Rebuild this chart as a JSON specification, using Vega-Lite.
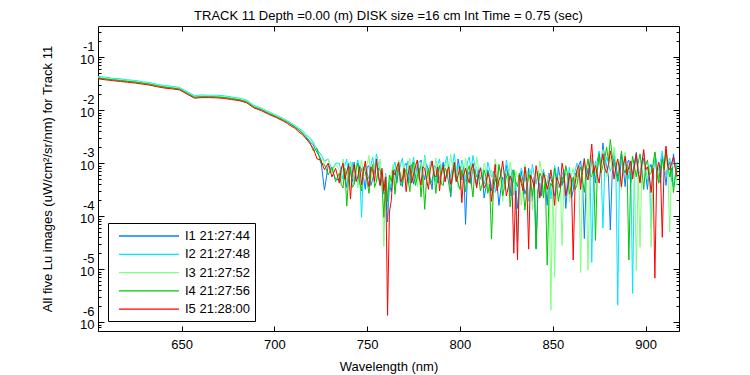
{
"$schema": "https://vega.github.io/schema/vega-lite/v6.json",
"width": 581, "height": 305,
"autosize": {"type": "none"},
"padding": {"left": 98, "top": 26, "right": 71, "bottom": 44},
"background": "white",
"title": {"text": "TRACK 11 Depth =0.00 (m) DISK size =16 cm   Int Time = 0.75 (sec)", "font": "Liberation Sans", "fontSize": 13, "fontWeight": "normal", "color": "black", "offset": -8},
"config": {"font": "Liberation Sans", "view": {"stroke": "black", "strokeWidth": 1}},
"data": {"values": [
{"w":605,"s":"I1","v":0.0412},{"w":609,"s":"I1","v":0.0394},{"w":613,"s":"I1","v":0.0381},{"w":617,"s":"I1","v":0.0368},{"w":621,"s":"I1","v":0.0355},{"w":625,"s":"I1","v":0.0343},{"w":629,"s":"I1","v":0.0328},{"w":633,"s":"I1","v":0.0313},{"w":637,"s":"I1","v":0.0292},{"w":641,"s":"I1","v":0.0276},{"w":645,"s":"I1","v":0.0266},{"w":649,"s":"I1","v":0.0254},{"w":653,"s":"I1","v":0.0212},{"w":657,"s":"I1","v":0.0178},{"w":661,"s":"I1","v":0.0182},{"w":665,"s":"I1","v":0.0182},{"w":669,"s":"I1","v":0.018},{"w":673,"s":"I1","v":0.0176},{"w":677,"s":"I1","v":0.0167},{"w":681,"s":"I1","v":0.016},{"w":685,"s":"I1","v":0.0146},{"w":689,"s":"I1","v":0.0117},{"w":693,"s":"I1","v":0.0104},{"w":697,"s":"I1","v":0.00882},{"w":701,"s":"I1","v":0.00767},{"w":705,"s":"I1","v":0.00654},
{"w":707,"s":"I1","v":6.0e-3},{"w":709,"s":"I1","v":5.4e-3},{"w":711,"s":"I1","v":4.9e-3},{"w":713,"s":"I1","v":4.3e-3},{"w":715,"s":"I1","v":3.8e-3},{"w":717,"s":"I1","v":3.2e-3},{"w":719,"s":"I1","v":2.6e-3},{"w":721,"s":"I1","v":2.2e-3},{"w":723,"s":"I1","v":1.6e-3},{"w":725,"s":"I1","v":1.2e-3},{"w":727,"s":"I1","v":3.1e-4},{"w":729,"s":"I1","v":9.0e-4},{"w":731,"s":"I1","v":7.5e-4},{"w":733,"s":"I1","v":5.0e-4},
{"w":735,"s":"I1","v":4.8e-4},{"w":737,"s":"I1","v":9.5e-4},{"w":739,"s":"I1","v":3.5e-4},{"w":741,"s":"I1","v":7.0e-4},{"w":743,"s":"I1","v":1.05e-3},{"w":745,"s":"I1","v":4.0e-4},{"w":747,"s":"I1","v":7.5e-4},{"w":749,"s":"I1","v":3.2e-4},{"w":751,"s":"I1","v":9.0e-4},{"w":753,"s":"I1","v":5.0e-4},{"w":755,"s":"I1","v":1.1e-3},{"w":757,"s":"I1","v":3.8e-4},{"w":759,"s":"I1","v":2.6e-4},{"w":761,"s":"I1","v":7.8e-5},{"w":763,"s":"I1","v":2.9e-4},{"w":765,"s":"I1","v":6.8e-4},{"w":767,"s":"I1","v":8.0e-4},{"w":769,"s":"I1","v":3.6e-4},{"w":771,"s":"I1","v":1.0e-3},{"w":773,"s":"I1","v":6.8e-4},{"w":775,"s":"I1","v":4.0e-4},{"w":777,"s":"I1","v":9.0e-4},{"w":779,"s":"I1","v":1.15e-3},{"w":781,"s":"I1","v":4.8e-4},{"w":783,"s":"I1","v":7.5e-4},{"w":785,"s":"I1","v":3.2e-4},{"w":787,"s":"I1","v":8.5e-4},{"w":789,"s":"I1","v":5.0e-4},{"w":791,"s":"I1","v":1.05e-3},{"w":793,"s":"I1","v":6.2e-4},{"w":795,"s":"I1","v":2.3e-4},{"w":797,"s":"I1","v":8.0e-4},{"w":799,"s":"I1","v":1.2e-3},{"w":801,"s":"I1","v":4.8e-4},{"w":803,"s":"I1","v":7.0e-5},{"w":805,"s":"I1","v":7.0e-4},{"w":807,"s":"I1","v":1.0e-3},{"w":809,"s":"I1","v":3.8e-4},
{"w":811,"s":"I1","v":5.0e-4},{"w":813,"s":"I1","v":2.2e-4},{"w":815,"s":"I1","v":7.5e-4},{"w":817,"s":"I1","v":3.0e-4},{"w":819,"s":"I1","v":6.0e-4},{"w":821,"s":"I1","v":1.6e-4},{"w":823,"s":"I1","v":5.5e-4},{"w":825,"s":"I1","v":9.0e-4},{"w":827,"s":"I1","v":2.4e-4},{"w":829,"s":"I1","v":4.5e-4},{"w":831,"s":"I1","v":1.4e-4},{"w":833,"s":"I1","v":7.0e-4},{"w":835,"s":"I1","v":2.6e-4},{"w":837,"s":"I1","v":8.0e-4},{"w":839,"s":"I1","v":1.9e-4},{"w":841,"s":"I1","v":2.4e-5},{"w":843,"s":"I1","v":4.2e-4},{"w":845,"s":"I1","v":7.5e-4},{"w":847,"s":"I1","v":1.6e-4},{"w":849,"s":"I1","v":5.0e-4},{"w":851,"s":"I1","v":2.4e-4},{"w":853,"s":"I1","v":8.5e-4},{"w":855,"s":"I1","v":3.8e-4},{"w":857,"s":"I1","v":1.4e-4},{"w":859,"s":"I1","v":6.0e-4},{"w":861,"s":"I1","v":3.0e-4},
{"w":863,"s":"I1","v":5.5e-4},{"w":865,"s":"I1","v":1.1e-3},{"w":867,"s":"I1","v":3.8e-5},{"w":869,"s":"I1","v":8.0e-4},{"w":871,"s":"I1","v":1.4e-3},{"w":873,"s":"I1","v":4.2e-4},{"w":875,"s":"I1","v":1.6e-3},{"w":877,"s":"I1","v":2.4e-3},{"w":879,"s":"I1","v":9.0e-4},{"w":881,"s":"I1","v":5.5e-5},{"w":883,"s":"I1","v":1.2e-3},{"w":885,"s":"I1","v":5.5e-4},{"w":887,"s":"I1","v":1.5e-3},{"w":889,"s":"I1","v":3.6e-4},{"w":891,"s":"I1","v":1.15e-3},{"w":893,"s":"I1","v":6.5e-4},{"w":895,"s":"I1","v":1.6e-3},{"w":897,"s":"I1","v":4.5e-4},{"w":899,"s":"I1","v":1.25e-3},{"w":901,"s":"I1","v":3.2e-4},{"w":903,"s":"I1","v":9.5e-4},{"w":905,"s":"I1","v":1.6e-3},{"w":907,"s":"I1","v":5.0e-4},{"w":909,"s":"I1","v":1.35e-3},{"w":911,"s":"I1","v":3.8e-4},{"w":913,"s":"I1","v":1.05e-3},{"w":915,"s":"I1","v":1.5e-3},{"w":917,"s":"I1","v":6.5e-4},
{"w":736,"s":"I1","v":8.0e-4},{"w":738,"s":"I1","v":5.0e-4},{"w":740,"s":"I1","v":1.0e-3},{"w":742,"s":"I1","v":4.5e-4},{"w":744,"s":"I1","v":6.0e-4},{"w":746,"s":"I1","v":9.0e-4},{"w":748,"s":"I1","v":5.5e-4},{"w":750,"s":"I1","v":8.5e-4},{"w":752,"s":"I1","v":3.8e-4},{"w":754,"s":"I1","v":7.0e-4},{"w":756,"s":"I1","v":5.5e-4},{"w":758,"s":"I1","v":6.5e-4},{"w":760,"s":"I1","v":3.0e-4},{"w":762,"s":"I1","v":4.0e-4},{"w":764,"s":"I1","v":8.5e-4},{"w":766,"s":"I1","v":4.2e-4},{"w":768,"s":"I1","v":6.0e-4},{"w":770,"s":"I1","v":8.8e-4},{"w":772,"s":"I1","v":4.5e-4},{"w":774,"s":"I1","v":9.5e-4},{"w":776,"s":"I1","v":5.5e-4},{"w":778,"s":"I1","v":4.8e-4},{"w":780,"s":"I1","v":7.0e-4},{"w":782,"s":"I1","v":9.5e-4},{"w":784,"s":"I1","v":5.0e-4},{"w":786,"s":"I1","v":9.0e-4},{"w":788,"s":"I1","v":4.2e-4},{"w":790,"s":"I1","v":7.5e-4},{"w":792,"s":"I1","v":4.5e-4},{"w":794,"s":"I1","v":9.0e-4},{"w":796,"s":"I1","v":6.5e-4},{"w":798,"s":"I1","v":4.5e-4},{"w":800,"s":"I1","v":7.5e-4},{"w":802,"s":"I1","v":8.5e-4},{"w":804,"s":"I1","v":5.5e-4},{"w":806,"s":"I1","v":4.0e-4},{"w":808,"s":"I1","v":6.5e-4},
{"w":810,"s":"I1","v":7.5e-4},{"w":812,"s":"I1","v":6.0e-4},{"w":814,"s":"I1","v":3.5e-4},{"w":816,"s":"I1","v":5.5e-4},{"w":818,"s":"I1","v":7.0e-4},{"w":820,"s":"I1","v":4.0e-4},{"w":822,"s":"I1","v":3.2e-4},{"w":824,"s":"I1","v":4.0e-4},{"w":826,"s":"I1","v":5.5e-4},{"w":828,"s":"I1","v":7.5e-4},{"w":830,"s":"I1","v":3.5e-4},{"w":832,"s":"I1","v":4.0e-4},{"w":834,"s":"I1","v":4.5e-4},{"w":836,"s":"I1","v":3.5e-4},{"w":838,"s":"I1","v":4.5e-4},{"w":840,"s":"I1","v":5.5e-4},{"w":842,"s":"I1","v":3.0e-4},{"w":844,"s":"I1","v":2.4e-4},{"w":846,"s":"I1","v":4.0e-4},{"w":848,"s":"I1","v":6.5e-4},{"w":850,"s":"I1","v":4.0e-4},{"w":852,"s":"I1","v":3.0e-4},{"w":854,"s":"I1","v":5.0e-4},{"w":856,"s":"I1","v":6.5e-4},{"w":858,"s":"I1","v":3.8e-4},{"w":860,"s":"I1","v":2.2e-4},{"w":862,"s":"I1","v":6.5e-4},
{"w":864,"s":"I1","v":9.0e-4},{"w":866,"s":"I1","v":5.0e-4},{"w":868,"s":"I1","v":4.5e-4},{"w":870,"s":"I1","v":5.0e-4},{"w":872,"s":"I1","v":8.5e-4},{"w":874,"s":"I1","v":1.1e-3},{"w":876,"s":"I1","v":7.0e-4},{"w":878,"s":"I1","v":1.2e-3},{"w":880,"s":"I1","v":5.5e-4},{"w":882,"s":"I1","v":6.0e-4},{"w":884,"s":"I1","v":9.5e-4},{"w":886,"s":"I1","v":4.5e-4},{"w":888,"s":"I1","v":8.0e-4},{"w":890,"s":"I1","v":1.0e-3},{"w":892,"s":"I1","v":4.2e-4},{"w":894,"s":"I1","v":1.0e-3},{"w":896,"s":"I1","v":7.0e-4},{"w":898,"s":"I1","v":9.0e-4},{"w":900,"s":"I1","v":6.5e-4},{"w":902,"s":"I1","v":8.0e-4},{"w":904,"s":"I1","v":5.0e-4},{"w":906,"s":"I1","v":9.5e-4},{"w":908,"s":"I1","v":4.2e-4},{"w":910,"s":"I1","v":8.0e-4},{"w":912,"s":"I1","v":9.0e-4},{"w":914,"s":"I1","v":4.5e-4},{"w":916,"s":"I1","v":9.0e-4},

{"w":605,"s":"I2","v":0.0432},{"w":609,"s":"I2","v":0.0416},{"w":613,"s":"I2","v":0.0398},{"w":617,"s":"I2","v":0.0388},{"w":621,"s":"I2","v":0.0372},{"w":625,"s":"I2","v":0.0362},{"w":629,"s":"I2","v":0.0343},{"w":633,"s":"I2","v":0.033},{"w":637,"s":"I2","v":0.0305},{"w":641,"s":"I2","v":0.029},{"w":645,"s":"I2","v":0.0281},{"w":649,"s":"I2","v":0.0266},{"w":653,"s":"I2","v":0.0224},{"w":657,"s":"I2","v":0.0188},{"w":661,"s":"I2","v":0.0193},{"w":665,"s":"I2","v":0.019},{"w":669,"s":"I2","v":0.0191},{"w":673,"s":"I2","v":0.0186},{"w":677,"s":"I2","v":0.0177},{"w":681,"s":"I2","v":0.0168},{"w":685,"s":"I2","v":0.0155},{"w":689,"s":"I2","v":0.0123},{"w":693,"s":"I2","v":0.0109},{"w":697,"s":"I2","v":0.0093},{"w":701,"s":"I2","v":0.00805},{"w":705,"s":"I2","v":0.0069},
{"w":707,"s":"I2","v":6.3e-3},{"w":709,"s":"I2","v":5.7e-3},{"w":711,"s":"I2","v":5.2e-3},{"w":713,"s":"I2","v":4.6e-3},{"w":715,"s":"I2","v":4.1e-3},{"w":717,"s":"I2","v":3.5e-3},{"w":719,"s":"I2","v":3.0e-3},{"w":721,"s":"I2","v":2.4e-3},{"w":723,"s":"I2","v":1.8e-3},{"w":725,"s":"I2","v":1.5e-3},{"w":727,"s":"I2","v":1.1e-3},{"w":729,"s":"I2","v":1.2e-3},{"w":731,"s":"I2","v":7.5e-4},{"w":733,"s":"I2","v":1.0e-3},
{"w":735,"s":"I2","v":1.0e-3},{"w":737,"s":"I2","v":5.0e-4},{"w":739,"s":"I2","v":1.2e-3},{"w":741,"s":"I2","v":7.5e-4},{"w":743,"s":"I2","v":4.0e-4},{"w":745,"s":"I2","v":1.15e-3},{"w":747,"s":"I2","v":9.5e-5},{"w":749,"s":"I2","v":9.5e-4},{"w":751,"s":"I2","v":5.0e-4},{"w":753,"s":"I2","v":1.3e-3},{"w":755,"s":"I2","v":1.5e-3},{"w":757,"s":"I2","v":7.5e-4},{"w":759,"s":"I2","v":3.8e-4},{"w":761,"s":"I2","v":1.3e-4},{"w":763,"s":"I2","v":3.4e-4},{"w":765,"s":"I2","v":1.05e-3},{"w":767,"s":"I2","v":6.0e-4},{"w":769,"s":"I2","v":1.25e-3},{"w":771,"s":"I2","v":7.5e-4},{"w":773,"s":"I2","v":4.2e-4},{"w":775,"s":"I2","v":1.3e-3},{"w":777,"s":"I2","v":6.8e-4},{"w":779,"s":"I2","v":1.0e-3},{"w":781,"s":"I2","v":1.4e-3},{"w":783,"s":"I2","v":5.0e-4},{"w":785,"s":"I2","v":1.1e-3},{"w":787,"s":"I2","v":4.5e-4},{"w":789,"s":"I2","v":1.2e-3},{"w":791,"s":"I2","v":7.5e-4},{"w":793,"s":"I2","v":1.35e-3},{"w":795,"s":"I2","v":5.5e-4},{"w":797,"s":"I2","v":1.5e-3},{"w":799,"s":"I2","v":9.5e-4},{"w":801,"s":"I2","v":1.15e-3},{"w":803,"s":"I2","v":4.5e-4},{"w":805,"s":"I2","v":1.3e-3},{"w":807,"s":"I2","v":1.4e-3},{"w":809,"s":"I2","v":8.0e-4},
{"w":811,"s":"I2","v":8.5e-4},{"w":813,"s":"I2","v":4.0e-4},{"w":815,"s":"I2","v":1.05e-3},{"w":817,"s":"I2","v":5.5e-4},{"w":819,"s":"I2","v":2.8e-4},{"w":821,"s":"I2","v":8.5e-4},{"w":823,"s":"I2","v":3.5e-4},{"w":825,"s":"I2","v":1.15e-3},{"w":827,"s":"I2","v":5.0e-4},{"w":829,"s":"I2","v":2.5e-4},{"w":831,"s":"I2","v":3.2e-5},{"w":833,"s":"I2","v":8.0e-4},{"w":835,"s":"I2","v":4.5e-4},{"w":837,"s":"I2","v":1.9e-4},{"w":839,"s":"I2","v":9.5e-4},{"w":841,"s":"I2","v":4.0e-4},{"w":843,"s":"I2","v":2.3e-4},{"w":845,"s":"I2","v":7.5e-4},{"w":847,"s":"I2","v":4.2e-4},{"w":849,"s":"I2","v":2.1e-4},{"w":851,"s":"I2","v":9.0e-4},{"w":853,"s":"I2","v":3.5e-4},{"w":855,"s":"I2","v":6.0e-4},{"w":857,"s":"I2","v":2.3e-4},{"w":859,"s":"I2","v":8.5e-4},{"w":861,"s":"I2","v":4.5e-4},
{"w":863,"s":"I2","v":1.0e-3},{"w":865,"s":"I2","v":4.2e-4},{"w":867,"s":"I2","v":1.25e-3},{"w":869,"s":"I2","v":6.0e-4},{"w":871,"s":"I2","v":1.35e-5},{"w":873,"s":"I2","v":1.1e-3},{"w":875,"s":"I2","v":1.7e-3},{"w":877,"s":"I2","v":6.0e-5},{"w":879,"s":"I2","v":1.3e-3},{"w":881,"s":"I2","v":7.0e-4},{"w":883,"s":"I2","v":1.6e-3},{"w":885,"s":"I2","v":2.1e-6},{"w":887,"s":"I2","v":1.1e-3},{"w":889,"s":"I2","v":1.5e-3},{"w":891,"s":"I2","v":5.0e-4},{"w":893,"s":"I2","v":3.5e-6},{"w":895,"s":"I2","v":1.3e-3},{"w":897,"s":"I2","v":7.0e-4},{"w":899,"s":"I2","v":1.6e-3},{"w":901,"s":"I2","v":4.5e-4},{"w":903,"s":"I2","v":6.0e-5},{"w":905,"s":"I2","v":1.35e-3},{"w":907,"s":"I2","v":7.5e-4},{"w":909,"s":"I2","v":1.7e-3},{"w":911,"s":"I2","v":6.0e-4},{"w":913,"s":"I2","v":1.25e-3},{"w":915,"s":"I2","v":3.6e-4},{"w":917,"s":"I2","v":1.05e-3},
{"w":736,"s":"I2","v":7.0e-4},{"w":738,"s":"I2","v":9.0e-4},{"w":740,"s":"I2","v":5.0e-4},{"w":742,"s":"I2","v":1.05e-3},{"w":744,"s":"I2","v":8.5e-4},{"w":746,"s":"I2","v":6.0e-4},{"w":748,"s":"I2","v":8.0e-4},{"w":750,"s":"I2","v":6.5e-4},{"w":752,"s":"I2","v":9.0e-4},{"w":754,"s":"I2","v":7.5e-4},{"w":756,"s":"I2","v":1.0e-3},{"w":758,"s":"I2","v":5.5e-4},{"w":760,"s":"I2","v":6.5e-4},{"w":762,"s":"I2","v":4.5e-4},{"w":764,"s":"I2","v":8.0e-4},{"w":766,"s":"I2","v":6.0e-4},{"w":768,"s":"I2","v":9.5e-4},{"w":770,"s":"I2","v":5.5e-4},{"w":772,"s":"I2","v":1.1e-3},{"w":774,"s":"I2","v":8.0e-4},{"w":776,"s":"I2","v":7.0e-4},{"w":778,"s":"I2","v":1.1e-3},{"w":780,"s":"I2","v":6.0e-4},{"w":782,"s":"I2","v":8.5e-4},{"w":784,"s":"I2","v":1.05e-3},{"w":786,"s":"I2","v":6.5e-4},{"w":788,"s":"I2","v":9.5e-4},{"w":790,"s":"I2","v":6.0e-4},{"w":792,"s":"I2","v":1.0e-3},{"w":794,"s":"I2","v":8.0e-4},{"w":796,"s":"I2","v":9.0e-4},{"w":798,"s":"I2","v":7.0e-4},{"w":800,"s":"I2","v":6.0e-4},{"w":802,"s":"I2","v":8.0e-4},{"w":804,"s":"I2","v":1.05e-3},{"w":806,"s":"I2","v":7.5e-4},{"w":808,"s":"I2","v":9.0e-4},
{"w":810,"s":"I2","v":5.0e-4},{"w":812,"s":"I2","v":7.0e-4},{"w":814,"s":"I2","v":5.5e-4},{"w":816,"s":"I2","v":7.5e-4},{"w":818,"s":"I2","v":6.5e-4},{"w":820,"s":"I2","v":4.5e-4},{"w":822,"s":"I2","v":7.0e-4},{"w":824,"s":"I2","v":5.5e-4},{"w":826,"s":"I2","v":7.5e-4},{"w":828,"s":"I2","v":6.0e-4},{"w":830,"s":"I2","v":4.5e-4},{"w":832,"s":"I2","v":5.0e-4},{"w":834,"s":"I2","v":6.5e-4},{"w":836,"s":"I2","v":7.0e-4},{"w":838,"s":"I2","v":4.0e-4},{"w":840,"s":"I2","v":6.0e-4},{"w":842,"s":"I2","v":7.0e-4},{"w":844,"s":"I2","v":4.5e-4},{"w":846,"s":"I2","v":3.5e-4},{"w":848,"s":"I2","v":6.5e-4},{"w":850,"s":"I2","v":5.0e-4},{"w":852,"s":"I2","v":6.0e-4},{"w":854,"s":"I2","v":3.5e-4},{"w":856,"s":"I2","v":7.5e-4},{"w":858,"s":"I2","v":5.0e-4},{"w":860,"s":"I2","v":3.2e-4},{"w":862,"s":"I2","v":7.0e-4},
{"w":864,"s":"I2","v":7.0e-4},{"w":866,"s":"I2","v":8.0e-4},{"w":868,"s":"I2","v":6.0e-4},{"w":870,"s":"I2","v":9.0e-4},{"w":872,"s":"I2","v":6.5e-4},{"w":874,"s":"I2","v":7.0e-4},{"w":876,"s":"I2","v":9.0e-4},{"w":878,"s":"I2","v":8.0e-4},{"w":880,"s":"I2","v":1.0e-3},{"w":882,"s":"I2","v":9.0e-4},{"w":884,"s":"I2","v":7.5e-4},{"w":886,"s":"I2","v":9.5e-4},{"w":888,"s":"I2","v":6.5e-4},{"w":890,"s":"I2","v":8.0e-4},{"w":892,"s":"I2","v":1.05e-3},{"w":894,"s":"I2","v":8.5e-4},{"w":896,"s":"I2","v":6.0e-4},{"w":898,"s":"I2","v":1.1e-3},{"w":900,"s":"I2","v":8.5e-4},{"w":902,"s":"I2","v":9.0e-4},{"w":904,"s":"I2","v":8.0e-4},{"w":906,"s":"I2","v":6.5e-4},{"w":908,"s":"I2","v":1.1e-3},{"w":910,"s":"I2","v":8.0e-4},{"w":912,"s":"I2","v":9.5e-4},{"w":914,"s":"I2","v":7.5e-4},{"w":916,"s":"I2","v":6.0e-4},

{"w":605,"s":"I3","v":0.042},{"w":609,"s":"I3","v":0.0403},{"w":613,"s":"I3","v":0.0386},{"w":617,"s":"I3","v":0.0376},{"w":621,"s":"I3","v":0.0361},{"w":625,"s":"I3","v":0.0351},{"w":629,"s":"I3","v":0.0333},{"w":633,"s":"I3","v":0.032},{"w":637,"s":"I3","v":0.0296},{"w":641,"s":"I3","v":0.0282},{"w":645,"s":"I3","v":0.027},{"w":649,"s":"I3","v":0.026},{"w":653,"s":"I3","v":0.0216},{"w":657,"s":"I3","v":0.0181},{"w":661,"s":"I3","v":0.0186},{"w":665,"s":"I3","v":0.0186},{"w":669,"s":"I3","v":0.0183},{"w":673,"s":"I3","v":0.018},{"w":677,"s":"I3","v":0.017},{"w":681,"s":"I3","v":0.0164},{"w":685,"s":"I3","v":0.0149},{"w":689,"s":"I3","v":0.0119},{"w":693,"s":"I3","v":0.0106},{"w":697,"s":"I3","v":0.009},{"w":701,"s":"I3","v":0.0078},{"w":705,"s":"I3","v":0.00668},
{"w":707,"s":"I3","v":6.2e-3},{"w":709,"s":"I3","v":5.6e-3},{"w":711,"s":"I3","v":5.1e-3},{"w":713,"s":"I3","v":4.5e-3},{"w":715,"s":"I3","v":3.9e-3},{"w":717,"s":"I3","v":3.3e-3},{"w":719,"s":"I3","v":3.1e-3},{"w":721,"s":"I3","v":2.6e-3},{"w":723,"s":"I3","v":1.7e-3},{"w":725,"s":"I3","v":1.4e-3},{"w":727,"s":"I3","v":1.0e-3},{"w":729,"s":"I3","v":1.2e-3},{"w":731,"s":"I3","v":6.5e-4},{"w":733,"s":"I3","v":9.5e-4},
{"w":735,"s":"I3","v":7.5e-4},{"w":737,"s":"I3","v":1.2e-3},{"w":739,"s":"I3","v":4.5e-4},{"w":741,"s":"I3","v":1.1e-3},{"w":743,"s":"I3","v":7.0e-4},{"w":745,"s":"I3","v":3.4e-4},{"w":747,"s":"I3","v":1.15e-3},{"w":749,"s":"I3","v":6.0e-4},{"w":751,"s":"I3","v":1.4e-3},{"w":753,"s":"I3","v":7.5e-4},{"w":755,"s":"I3","v":4.5e-4},{"w":757,"s":"I3","v":1.2e-3},{"w":759,"s":"I3","v":2.7e-5},{"w":761,"s":"I3","v":2.4e-4},{"w":763,"s":"I3","v":6.2e-4},{"w":765,"s":"I3","v":3.2e-4},{"w":767,"s":"I3","v":1.15e-3},{"w":769,"s":"I3","v":7.0e-4},{"w":771,"s":"I3","v":4.0e-4},{"w":773,"s":"I3","v":1.25e-3},{"w":775,"s":"I3","v":8.0e-4},{"w":777,"s":"I3","v":3.6e-4},{"w":779,"s":"I3","v":1.05e-3},{"w":781,"s":"I3","v":1.3e-3},{"w":783,"s":"I3","v":5.0e-4},{"w":785,"s":"I3","v":9.0e-4},{"w":787,"s":"I3","v":1.25e-3},{"w":789,"s":"I3","v":4.2e-4},{"w":791,"s":"I3","v":6.5e-4},{"w":793,"s":"I3","v":1.1e-3},{"w":795,"s":"I3","v":1.45e-3},{"w":797,"s":"I3","v":5.5e-4},{"w":799,"s":"I3","v":3.4e-4},{"w":801,"s":"I3","v":1.0e-3},{"w":803,"s":"I3","v":1.25e-3},{"w":805,"s":"I3","v":4.5e-4},{"w":807,"s":"I3","v":7.5e-4},{"w":809,"s":"I3","v":1.3e-3},
{"w":811,"s":"I3","v":6.0e-4},{"w":813,"s":"I3","v":1.0e-3},{"w":815,"s":"I3","v":3.2e-4},{"w":817,"s":"I3","v":7.5e-4},{"w":819,"s":"I3","v":1.2e-3},{"w":821,"s":"I3","v":3.6e-4},{"w":823,"s":"I3","v":1.9e-4},{"w":825,"s":"I3","v":6.5e-4},{"w":827,"s":"I3","v":1.05e-3},{"w":829,"s":"I3","v":2.8e-4},{"w":831,"s":"I3","v":5.5e-4},{"w":833,"s":"I3","v":1.6e-4},{"w":835,"s":"I3","v":9.5e-4},{"w":837,"s":"I3","v":4.5e-4},{"w":839,"s":"I3","v":1.3e-4},{"w":841,"s":"I3","v":7.0e-4},{"w":843,"s":"I3","v":1.1e-3},{"w":845,"s":"I3","v":2.5e-4},{"w":847,"s":"I3","v":5.8e-4},{"w":849,"s":"I3","v":1.7e-6},{"w":851,"s":"I3","v":7.0e-6},{"w":853,"s":"I3","v":5.0e-4},{"w":855,"s":"I3","v":2.8e-5},{"w":857,"s":"I3","v":6.5e-4},{"w":859,"s":"I3","v":1.9e-4},{"w":861,"s":"I3","v":8.0e-4},
{"w":863,"s":"I3","v":5.0e-4},{"w":865,"s":"I3","v":8.7e-6},{"w":867,"s":"I3","v":9.5e-4},{"w":869,"s":"I3","v":9.5e-6},{"w":871,"s":"I3","v":1.45e-3},{"w":873,"s":"I3","v":6.5e-4},{"w":875,"s":"I3","v":1.2e-3},{"w":877,"s":"I3","v":1.8e-3},{"w":879,"s":"I3","v":5.5e-4},{"w":881,"s":"I3","v":1.3e-3},{"w":883,"s":"I3","v":2.0e-3},{"w":885,"s":"I3","v":9.0e-4},{"w":887,"s":"I3","v":3.2e-4},{"w":889,"s":"I3","v":1.6e-3},{"w":891,"s":"I3","v":7.0e-4},{"w":893,"s":"I3","v":1.2e-3},{"w":895,"s":"I3","v":9.5e-6},{"w":897,"s":"I3","v":2.6e-5},{"w":899,"s":"I3","v":1.05e-3},{"w":901,"s":"I3","v":5.0e-4},{"w":903,"s":"I3","v":2.6e-5},{"w":905,"s":"I3","v":1.45e-3},{"w":907,"s":"I3","v":4.2e-4},{"w":909,"s":"I3","v":1.1e-3},{"w":911,"s":"I3","v":1.6e-3},{"w":913,"s":"I3","v":5.0e-5},{"w":915,"s":"I3","v":8.0e-4},{"w":917,"s":"I3","v":3.8e-4},
{"w":736,"s":"I3","v":4.5e-4},{"w":738,"s":"I3","v":7.0e-4},{"w":740,"s":"I3","v":8.0e-4},{"w":742,"s":"I3","v":5.0e-4},{"w":744,"s":"I3","v":9.0e-4},{"w":746,"s":"I3","v":7.5e-4},{"w":748,"s":"I3","v":5.5e-4},{"w":750,"s":"I3","v":9.5e-4},{"w":752,"s":"I3","v":4.8e-4},{"w":754,"s":"I3","v":1.0e-3},{"w":756,"s":"I3","v":7.5e-4},{"w":758,"s":"I3","v":5.0e-4},{"w":760,"s":"I3","v":6.0e-4},{"w":762,"s":"I3","v":5.0e-4},{"w":764,"s":"I3","v":9.5e-4},{"w":766,"s":"I3","v":7.0e-4},{"w":768,"s":"I3","v":5.0e-4},{"w":770,"s":"I3","v":9.5e-4},{"w":772,"s":"I3","v":8.5e-4},{"w":774,"s":"I3","v":5.0e-4},{"w":776,"s":"I3","v":1.0e-3},{"w":778,"s":"I3","v":7.5e-4},{"w":780,"s":"I3","v":5.5e-4},{"w":782,"s":"I3","v":7.0e-4},{"w":784,"s":"I3","v":9.5e-4},{"w":786,"s":"I3","v":5.5e-4},{"w":788,"s":"I3","v":7.0e-4},{"w":790,"s":"I3","v":9.5e-4},{"w":792,"s":"I3","v":8.5e-4},{"w":794,"s":"I3","v":6.0e-4},{"w":796,"s":"I3","v":8.5e-4},{"w":798,"s":"I3","v":9.0e-4},{"w":800,"s":"I3","v":6.5e-4},{"w":802,"s":"I3","v":5.5e-4},{"w":804,"s":"I3","v":7.0e-4},{"w":806,"s":"I3","v":9.5e-4},{"w":808,"s":"I3","v":5.0e-4},
{"w":810,"s":"I3","v":8.0e-4},{"w":812,"s":"I3","v":4.5e-4},{"w":814,"s":"I3","v":7.5e-4},{"w":816,"s":"I3","v":5.5e-4},{"w":818,"s":"I3","v":4.0e-4},{"w":820,"s":"I3","v":7.5e-4},{"w":822,"s":"I3","v":5.5e-4},{"w":824,"s":"I3","v":7.0e-4},{"w":826,"s":"I3","v":4.0e-4},{"w":828,"s":"I3","v":6.5e-4},{"w":830,"s":"I3","v":7.0e-4},{"w":832,"s":"I3","v":6.0e-4},{"w":834,"s":"I3","v":4.0e-4},{"w":836,"s":"I3","v":6.5e-4},{"w":838,"s":"I3","v":7.5e-4},{"w":840,"s":"I3","v":4.5e-4},{"w":842,"s":"I3","v":5.0e-4},{"w":844,"s":"I3","v":7.0e-4},{"w":846,"s":"I3","v":6.0e-4},{"w":848,"s":"I3","v":4.5e-4},{"w":850,"s":"I3","v":5.5e-4},{"w":852,"s":"I3","v":4.0e-4},{"w":854,"s":"I3","v":6.0e-4},{"w":856,"s":"I3","v":4.5e-4},{"w":858,"s":"I3","v":5.5e-4},{"w":860,"s":"I3","v":6.0e-4},{"w":862,"s":"I3","v":4.5e-4},
{"w":864,"s":"I3","v":9.0e-4},{"w":866,"s":"I3","v":6.5e-4},{"w":868,"s":"I3","v":5.5e-4},{"w":870,"s":"I3","v":8.0e-4},{"w":872,"s":"I3","v":9.5e-4},{"w":874,"s":"I3","v":1.0e-3},{"w":876,"s":"I3","v":7.0e-4},{"w":878,"s":"I3","v":9.5e-4},{"w":880,"s":"I3","v":8.5e-4},{"w":882,"s":"I3","v":7.5e-4},{"w":884,"s":"I3","v":1.1e-3},{"w":886,"s":"I3","v":6.0e-4},{"w":888,"s":"I3","v":9.5e-4},{"w":890,"s":"I3","v":6.5e-4},{"w":892,"s":"I3","v":8.0e-4},{"w":894,"s":"I3","v":9.0e-4},{"w":896,"s":"I3","v":7.0e-4},{"w":898,"s":"I3","v":8.5e-4},{"w":900,"s":"I3","v":7.0e-4},{"w":902,"s":"I3","v":9.0e-4},{"w":904,"s":"I3","v":7.5e-4},{"w":906,"s":"I3","v":8.5e-4},{"w":908,"s":"I3","v":1.0e-3},{"w":910,"s":"I3","v":6.5e-4},{"w":912,"s":"I3","v":7.5e-4},{"w":914,"s":"I3","v":1.0e-3},{"w":916,"s":"I3","v":9.0e-4},

{"w":605,"s":"I4","v":0.0403},{"w":609,"s":"I4","v":0.0385},{"w":613,"s":"I4","v":0.0372},{"w":617,"s":"I4","v":0.0359},{"w":621,"s":"I4","v":0.0347},{"w":625,"s":"I4","v":0.0335},{"w":629,"s":"I4","v":0.032},{"w":633,"s":"I4","v":0.0305},{"w":637,"s":"I4","v":0.0285},{"w":641,"s":"I4","v":0.0269},{"w":645,"s":"I4","v":0.026},{"w":649,"s":"I4","v":0.0248},{"w":653,"s":"I4","v":0.0207},{"w":657,"s":"I4","v":0.0174},{"w":661,"s":"I4","v":0.0178},{"w":665,"s":"I4","v":0.0178},{"w":669,"s":"I4","v":0.0176},{"w":673,"s":"I4","v":0.0172},{"w":677,"s":"I4","v":0.0164},{"w":681,"s":"I4","v":0.0156},{"w":685,"s":"I4","v":0.0143},{"w":689,"s":"I4","v":0.0114},{"w":693,"s":"I4","v":0.0101},{"w":697,"s":"I4","v":0.00861},{"w":701,"s":"I4","v":0.00749},{"w":705,"s":"I4","v":0.00639},
{"w":707,"s":"I4","v":5.9e-3},{"w":709,"s":"I4","v":5.3e-3},{"w":711,"s":"I4","v":4.8e-3},{"w":713,"s":"I4","v":4.2e-3},{"w":715,"s":"I4","v":3.7e-3},{"w":717,"s":"I4","v":3.0e-3},{"w":719,"s":"I4","v":2.5e-3},{"w":721,"s":"I4","v":1.7e-3},{"w":723,"s":"I4","v":1.9e-3},{"w":725,"s":"I4","v":1.0e-3},{"w":727,"s":"I4","v":9.5e-4},{"w":729,"s":"I4","v":6.0e-4},{"w":731,"s":"I4","v":8.5e-4},{"w":733,"s":"I4","v":4.5e-4},
{"w":735,"s":"I4","v":6.5e-4},{"w":737,"s":"I4","v":3.4e-4},{"w":739,"s":"I4","v":1.55e-4},{"w":741,"s":"I4","v":8.5e-4},{"w":743,"s":"I4","v":4.0e-4},{"w":745,"s":"I4","v":1.0e-3},{"w":747,"s":"I4","v":3.0e-4},{"w":749,"s":"I4","v":7.0e-4},{"w":751,"s":"I4","v":2.7e-4},{"w":753,"s":"I4","v":9.5e-4},{"w":755,"s":"I4","v":4.5e-4},{"w":757,"s":"I4","v":7.5e-4},{"w":759,"s":"I4","v":9.5e-5},{"w":761,"s":"I4","v":1.9e-4},{"w":763,"s":"I4","v":4.5e-4},{"w":765,"s":"I4","v":2.6e-4},{"w":767,"s":"I4","v":9.5e-4},{"w":769,"s":"I4","v":4.0e-4},{"w":771,"s":"I4","v":7.0e-4},{"w":773,"s":"I4","v":2.9e-4},{"w":775,"s":"I4","v":1.05e-3},{"w":777,"s":"I4","v":5.5e-4},{"w":779,"s":"I4","v":2.3e-4},{"w":781,"s":"I4","v":1.35e-4},{"w":783,"s":"I4","v":8.0e-4},{"w":785,"s":"I4","v":4.8e-4},{"w":787,"s":"I4","v":2.7e-4},{"w":789,"s":"I4","v":9.0e-4},{"w":791,"s":"I4","v":3.8e-4},{"w":793,"s":"I4","v":6.8e-4},{"w":795,"s":"I4","v":2.5e-4},{"w":797,"s":"I4","v":1.0e-3},{"w":799,"s":"I4","v":4.2e-4},{"w":801,"s":"I4","v":7.5e-4},{"w":803,"s":"I4","v":2.9e-4},{"w":805,"s":"I4","v":9.0e-4},{"w":807,"s":"I4","v":2.3e-4},{"w":809,"s":"I4","v":5.5e-4},
{"w":811,"s":"I4","v":3.0e-4},{"w":813,"s":"I4","v":7.5e-4},{"w":815,"s":"I4","v":2.7e-4},{"w":817,"s":"I4","v":3.7e-5},{"w":819,"s":"I4","v":5.0e-4},{"w":821,"s":"I4","v":9.5e-4},{"w":823,"s":"I4","v":2.4e-4},{"w":825,"s":"I4","v":5.5e-4},{"w":827,"s":"I4","v":1.5e-4},{"w":829,"s":"I4","v":7.5e-4},{"w":831,"s":"I4","v":3.6e-4},{"w":833,"s":"I4","v":5.0e-4},{"w":835,"s":"I4","v":1.3e-4},{"w":837,"s":"I4","v":6.2e-4},{"w":839,"s":"I4","v":2.4e-4},{"w":841,"s":"I4","v":2.5e-5},{"w":843,"s":"I4","v":6.5e-4},{"w":845,"s":"I4","v":2.2e-4},{"w":847,"s":"I4","v":1.2e-5},{"w":849,"s":"I4","v":4.2e-4},{"w":851,"s":"I4","v":8.0e-4},{"w":853,"s":"I4","v":1.9e-4},{"w":855,"s":"I4","v":5.5e-4},{"w":857,"s":"I4","v":9.0e-4},{"w":859,"s":"I4","v":2.6e-4},{"w":861,"s":"I4","v":5.5e-4},
{"w":863,"s":"I4","v":3.8e-4},{"w":865,"s":"I4","v":8.5e-4},{"w":867,"s":"I4","v":2.8e-4},{"w":869,"s":"I4","v":1.2e-3},{"w":871,"s":"I4","v":5.5e-4},{"w":873,"s":"I4","v":3.5e-5},{"w":875,"s":"I4","v":1.5e-3},{"w":877,"s":"I4","v":9.0e-4},{"w":879,"s":"I4","v":2.0e-3},{"w":881,"s":"I4","v":2.8e-3},{"w":883,"s":"I4","v":1.05e-3},{"w":885,"s":"I4","v":4.5e-4},{"w":887,"s":"I4","v":1.7e-3},{"w":889,"s":"I4","v":6.5e-4},{"w":891,"s":"I4","v":1.5e-5},{"w":893,"s":"I4","v":1.35e-3},{"w":895,"s":"I4","v":5.5e-4},{"w":897,"s":"I4","v":1.5e-3},{"w":899,"s":"I4","v":3.2e-4},{"w":901,"s":"I4","v":1.15e-3},{"w":903,"s":"I4","v":6.5e-4},{"w":905,"s":"I4","v":1.6e-3},{"w":907,"s":"I4","v":4.2e-4},{"w":909,"s":"I4","v":1.2e-3},{"w":911,"s":"I4","v":1.8e-3},{"w":913,"s":"I4","v":5.5e-4},{"w":915,"s":"I4","v":2.8e-4},{"w":917,"s":"I4","v":9.0e-4},
{"w":736,"s":"I4","v":4.0e-4},{"w":738,"s":"I4","v":8.0e-4},{"w":740,"s":"I4","v":5.0e-4},{"w":742,"s":"I4","v":3.5e-4},{"w":744,"s":"I4","v":7.5e-4},{"w":746,"s":"I4","v":4.2e-4},{"w":748,"s":"I4","v":8.5e-4},{"w":750,"s":"I4","v":4.5e-4},{"w":752,"s":"I4","v":6.5e-4},{"w":754,"s":"I4","v":3.5e-4},{"w":756,"s":"I4","v":8.0e-4},{"w":758,"s":"I4","v":4.0e-4},{"w":760,"s":"I4","v":5.5e-4},{"w":762,"s":"I4","v":6.0e-4},{"w":764,"s":"I4","v":7.5e-4},{"w":766,"s":"I4","v":6.0e-4},{"w":768,"s":"I4","v":3.8e-4},{"w":770,"s":"I4","v":8.0e-4},{"w":772,"s":"I4","v":5.0e-4},{"w":774,"s":"I4","v":7.5e-4},{"w":776,"s":"I4","v":3.8e-4},{"w":778,"s":"I4","v":8.0e-4},{"w":780,"s":"I4","v":6.0e-4},{"w":782,"s":"I4","v":5.0e-4},{"w":784,"s":"I4","v":4.0e-4},{"w":786,"s":"I4","v":7.0e-4},{"w":788,"s":"I4","v":6.5e-4},{"w":790,"s":"I4","v":4.0e-4},{"w":792,"s":"I4","v":8.0e-4},{"w":794,"s":"I4","v":4.0e-4},{"w":796,"s":"I4","v":6.5e-4},{"w":798,"s":"I4","v":5.5e-4},{"w":800,"s":"I4","v":3.2e-4},{"w":802,"s":"I4","v":5.0e-4},{"w":804,"s":"I4","v":7.0e-4},{"w":806,"s":"I4","v":4.5e-4},{"w":808,"s":"I4","v":7.5e-4},
{"w":810,"s":"I4","v":6.0e-4},{"w":812,"s":"I4","v":4.0e-4},{"w":814,"s":"I4","v":5.5e-4},{"w":816,"s":"I4","v":4.0e-4},{"w":818,"s":"I4","v":3.2e-4},{"w":820,"s":"I4","v":4.0e-4},{"w":822,"s":"I4","v":6.0e-4},{"w":824,"s":"I4","v":3.5e-4},{"w":826,"s":"I4","v":6.5e-4},{"w":828,"s":"I4","v":3.2e-4},{"w":830,"s":"I4","v":4.5e-4},{"w":832,"s":"I4","v":6.5e-4},{"w":834,"s":"I4","v":3.5e-4},{"w":836,"s":"I4","v":3.0e-4},{"w":838,"s":"I4","v":5.0e-4},{"w":840,"s":"I4","v":4.5e-4},{"w":842,"s":"I4","v":3.0e-4},{"w":844,"s":"I4","v":5.5e-4},{"w":846,"s":"I4","v":5.0e-4},{"w":848,"s":"I4","v":3.0e-4},{"w":850,"s":"I4","v":3.5e-4},{"w":852,"s":"I4","v":4.5e-4},{"w":854,"s":"I4","v":3.0e-4},{"w":856,"s":"I4","v":4.2e-4},{"w":858,"s":"I4","v":6.0e-4},{"w":860,"s":"I4","v":3.8e-4},{"w":862,"s":"I4","v":3.2e-4},
{"w":864,"s":"I4","v":6.5e-4},{"w":866,"s":"I4","v":5.0e-4},{"w":868,"s":"I4","v":7.5e-4},{"w":870,"s":"I4","v":6.0e-4},{"w":872,"s":"I4","v":9.0e-4},{"w":874,"s":"I4","v":7.0e-4},{"w":876,"s":"I4","v":6.5e-4},{"w":878,"s":"I4","v":1.2e-3},{"w":880,"s":"I4","v":1.1e-3},{"w":882,"s":"I4","v":1.4e-3},{"w":884,"s":"I4","v":7.0e-4},{"w":886,"s":"I4","v":9.0e-4},{"w":888,"s":"I4","v":8.0e-4},{"w":890,"s":"I4","v":9.5e-4},{"w":892,"s":"I4","v":7.0e-4},{"w":894,"s":"I4","v":8.5e-4},{"w":896,"s":"I4","v":1.0e-3},{"w":898,"s":"I4","v":7.5e-4},{"w":900,"s":"I4","v":9.0e-4},{"w":902,"s":"I4","v":6.0e-4},{"w":904,"s":"I4","v":9.5e-4},{"w":906,"s":"I4","v":7.0e-4},{"w":908,"s":"I4","v":8.5e-4},{"w":910,"s":"I4","v":7.5e-4},{"w":912,"s":"I4","v":9.0e-4},{"w":914,"s":"I4","v":8.0e-4},{"w":916,"s":"I4","v":5.5e-4},

{"w":605,"s":"I5","v":0.0389},{"w":609,"s":"I5","v":0.0372},{"w":613,"s":"I5","v":0.0359},{"w":617,"s":"I5","v":0.0347},{"w":621,"s":"I5","v":0.0335},{"w":625,"s":"I5","v":0.0324},{"w":629,"s":"I5","v":0.0309},{"w":633,"s":"I5","v":0.0295},{"w":637,"s":"I5","v":0.0275},{"w":641,"s":"I5","v":0.026},{"w":645,"s":"I5","v":0.0251},{"w":649,"s":"I5","v":0.024},{"w":653,"s":"I5","v":0.02},{"w":657,"s":"I5","v":0.0168},{"w":661,"s":"I5","v":0.0172},{"w":665,"s":"I5","v":0.0172},{"w":669,"s":"I5","v":0.017},{"w":673,"s":"I5","v":0.0166},{"w":677,"s":"I5","v":0.0158},{"w":681,"s":"I5","v":0.0151},{"w":685,"s":"I5","v":0.0138},{"w":689,"s":"I5","v":0.011},{"w":693,"s":"I5","v":0.00977},{"w":697,"s":"I5","v":0.00832},{"w":701,"s":"I5","v":0.00724},{"w":705,"s":"I5","v":0.00617},
{"w":707,"s":"I5","v":5.6e-3},{"w":709,"s":"I5","v":5.0e-3},{"w":711,"s":"I5","v":4.6e-3},{"w":713,"s":"I5","v":3.9e-3},{"w":715,"s":"I5","v":3.5e-3},{"w":717,"s":"I5","v":2.9e-3},{"w":719,"s":"I5","v":2.4e-3},{"w":721,"s":"I5","v":1.9e-3},{"w":723,"s":"I5","v":1.2e-3},{"w":725,"s":"I5","v":1.15e-3},{"w":727,"s":"I5","v":7.5e-4},{"w":729,"s":"I5","v":1.0e-3},{"w":731,"s":"I5","v":5.5e-4},{"w":733,"s":"I5","v":8.0e-4},
{"w":735,"s":"I5","v":4.2e-4},{"w":737,"s":"I5","v":1.0e-3},{"w":739,"s":"I5","v":7.0e-4},{"w":741,"s":"I5","v":2.1e-4},{"w":743,"s":"I5","v":9.5e-4},{"w":745,"s":"I5","v":5.5e-4},{"w":747,"s":"I5","v":3.9e-4},{"w":749,"s":"I5","v":1.1e-3},{"w":751,"s":"I5","v":3.6e-4},{"w":753,"s":"I5","v":7.5e-4},{"w":755,"s":"I5","v":1.2e-3},{"w":757,"s":"I5","v":3.8e-4},{"w":759,"s":"I5","v":3.0e-4},{"w":761,"s":"I5","v":1.35e-6},{"w":763,"s":"I5","v":2.0e-4},{"w":765,"s":"I5","v":6.0e-4},{"w":767,"s":"I5","v":1.05e-3},{"w":769,"s":"I5","v":5.0e-4},{"w":771,"s":"I5","v":2.9e-4},{"w":773,"s":"I5","v":9.0e-4},{"w":775,"s":"I5","v":6.2e-4},{"w":777,"s":"I5","v":1.15e-3},{"w":779,"s":"I5","v":3.9e-4},{"w":781,"s":"I5","v":8.0e-4},{"w":783,"s":"I5","v":3.2e-4},{"w":785,"s":"I5","v":1.1e-3},{"w":787,"s":"I5","v":5.5e-4},{"w":789,"s":"I5","v":3.0e-4},{"w":791,"s":"I5","v":9.0e-4},{"w":793,"s":"I5","v":7.0e-4},{"w":795,"s":"I5","v":4.0e-4},{"w":797,"s":"I5","v":1.05e-3},{"w":799,"s":"I5","v":5.8e-4},{"w":801,"s":"I5","v":1.8e-4},{"w":803,"s":"I5","v":8.0e-4},{"w":805,"s":"I5","v":4.2e-4},{"w":807,"s":"I5","v":9.5e-4},{"w":809,"s":"I5","v":3.4e-4},
{"w":811,"s":"I5","v":8.0e-4},{"w":813,"s":"I5","v":3.4e-4},{"w":815,"s":"I5","v":6.5e-4},{"w":817,"s":"I5","v":1.9e-4},{"w":819,"s":"I5","v":9.5e-4},{"w":821,"s":"I5","v":4.8e-4},{"w":823,"s":"I5","v":1.1e-3},{"w":825,"s":"I5","v":2.4e-4},{"w":827,"s":"I5","v":5.8e-4},{"w":829,"s":"I5","v":2.0e-5},{"w":831,"s":"I5","v":1.5e-5},{"w":833,"s":"I5","v":4.2e-4},{"w":835,"s":"I5","v":8.5e-4},{"w":837,"s":"I5","v":2.4e-5},{"w":839,"s":"I5","v":4.8e-4},{"w":841,"s":"I5","v":9.0e-4},{"w":843,"s":"I5","v":2.2e-4},{"w":845,"s":"I5","v":6.5e-4},{"w":847,"s":"I5","v":3.2e-4},{"w":849,"s":"I5","v":7.5e-4},{"w":851,"s":"I5","v":1.6e-4},{"w":853,"s":"I5","v":4.5e-4},{"w":855,"s":"I5","v":1.0e-3},{"w":857,"s":"I5","v":2.4e-4},{"w":859,"s":"I5","v":6.5e-4},{"w":861,"s":"I5","v":1.5e-5},
{"w":863,"s":"I5","v":7.5e-4},{"w":865,"s":"I5","v":3.2e-4},{"w":867,"s":"I5","v":1.2e-3},{"w":869,"s":"I5","v":4.8e-4},{"w":871,"s":"I5","v":2.3e-3},{"w":873,"s":"I5","v":9.0e-4},{"w":875,"s":"I5","v":4.2e-4},{"w":877,"s":"I5","v":1.5e-3},{"w":879,"s":"I5","v":6.5e-4},{"w":881,"s":"I5","v":1.7e-3},{"w":883,"s":"I5","v":5.0e-4},{"w":885,"s":"I5","v":1.2e-3},{"w":887,"s":"I5","v":3.6e-4},{"w":889,"s":"I5","v":1.35e-3},{"w":891,"s":"I5","v":8.5e-4},{"w":893,"s":"I5","v":5.0e-4},{"w":895,"s":"I5","v":1.5e-3},{"w":897,"s":"I5","v":4.2e-4},{"w":899,"s":"I5","v":1.8e-3},{"w":901,"s":"I5","v":8.5e-4},{"w":903,"s":"I5","v":2.8e-4},{"w":905,"s":"I5","v":6.8e-6},{"w":907,"s":"I5","v":1.05e-3},{"w":909,"s":"I5","v":4.0e-5},{"w":911,"s":"I5","v":2.1e-3},{"w":913,"s":"I5","v":7.5e-4},{"w":915,"s":"I5","v":1.3e-3},{"w":917,"s":"I5","v":5.5e-4},
{"w":736,"s":"I5","v":7.5e-4},{"w":738,"s":"I5","v":5.0e-4},{"w":740,"s":"I5","v":9.0e-4},{"w":742,"s":"I5","v":6.5e-4},{"w":744,"s":"I5","v":4.5e-4},{"w":746,"s":"I5","v":8.5e-4},{"w":748,"s":"I5","v":7.0e-4},{"w":750,"s":"I5","v":5.5e-4},{"w":752,"s":"I5","v":8.5e-4},{"w":754,"s":"I5","v":4.5e-4},{"w":756,"s":"I5","v":6.5e-4},{"w":758,"s":"I5","v":8.0e-4},{"w":760,"s":"I5","v":5.5e-4},{"w":762,"s":"I5","v":1.2e-4},{"w":764,"s":"I5","v":7.0e-4},{"w":766,"s":"I5","v":8.5e-4},{"w":768,"s":"I5","v":4.5e-4},{"w":770,"s":"I5","v":8.0e-4},{"w":772,"s":"I5","v":6.0e-4},{"w":774,"s":"I5","v":4.2e-4},{"w":776,"s":"I5","v":8.5e-4},{"w":778,"s":"I5","v":5.5e-4},{"w":780,"s":"I5","v":8.5e-4},{"w":782,"s":"I5","v":5.0e-4},{"w":784,"s":"I5","v":7.5e-4},{"w":786,"s":"I5","v":6.0e-4},{"w":788,"s":"I5","v":8.5e-4},{"w":790,"s":"I5","v":6.5e-4},{"w":792,"s":"I5","v":4.5e-4},{"w":794,"s":"I5","v":8.5e-4},{"w":796,"s":"I5","v":5.5e-4},{"w":798,"s":"I5","v":4.5e-4},{"w":800,"s":"I5","v":8.5e-4},{"w":802,"s":"I5","v":6.0e-4},{"w":804,"s":"I5","v":5.5e-4},{"w":806,"s":"I5","v":7.5e-4},{"w":808,"s":"I5","v":5.5e-4},
{"w":810,"s":"I5","v":6.0e-4},{"w":812,"s":"I5","v":5.5e-4},{"w":814,"s":"I5","v":4.0e-4},{"w":816,"s":"I5","v":5.0e-4},{"w":818,"s":"I5","v":4.0e-4},{"w":820,"s":"I5","v":3.0e-4},{"w":822,"s":"I5","v":6.0e-4},{"w":824,"s":"I5","v":5.5e-4},{"w":826,"s":"I5","v":3.5e-4},{"w":828,"s":"I5","v":4.5e-4},{"w":830,"s":"I5","v":3.0e-4},{"w":832,"s":"I5","v":6.0e-4},{"w":834,"s":"I5","v":3.0e-4},{"w":836,"s":"I5","v":4.5e-4},{"w":838,"s":"I5","v":6.0e-4},{"w":840,"s":"I5","v":3.5e-4},{"w":842,"s":"I5","v":5.5e-4},{"w":844,"s":"I5","v":3.5e-4},{"w":846,"s":"I5","v":5.0e-4},{"w":848,"s":"I5","v":4.5e-4},{"w":850,"s":"I5","v":4.0e-4},{"w":852,"s":"I5","v":5.5e-4},{"w":854,"s":"I5","v":3.5e-4},{"w":856,"s":"I5","v":6.5e-4},{"w":858,"s":"I5","v":3.5e-4},{"w":860,"s":"I5","v":5.0e-4},{"w":862,"s":"I5","v":4.0e-4},
{"w":864,"s":"I5","v":9.0e-4},{"w":866,"s":"I5","v":7.0e-4},{"w":868,"s":"I5","v":6.0e-4},{"w":870,"s":"I5","v":1.0e-3},{"w":872,"s":"I5","v":6.5e-4},{"w":874,"s":"I5","v":6.0e-4},{"w":876,"s":"I5","v":9.5e-4},{"w":878,"s":"I5","v":8.0e-4},{"w":880,"s":"I5","v":9.5e-4},{"w":882,"s":"I5","v":1.1e-3},{"w":884,"s":"I5","v":8.5e-4},{"w":886,"s":"I5","v":7.5e-4},{"w":888,"s":"I5","v":9.0e-4},{"w":890,"s":"I5","v":6.0e-4},{"w":892,"s":"I5","v":1.1e-3},{"w":894,"s":"I5","v":9.0e-4},{"w":896,"s":"I5","v":7.0e-4},{"w":898,"s":"I5","v":1.0e-3},{"w":900,"s":"I5","v":7.5e-4},{"w":902,"s":"I5","v":5.5e-4},{"w":904,"s":"I5","v":8.0e-4},{"w":906,"s":"I5","v":6.5e-4},{"w":908,"s":"I5","v":7.0e-4},{"w":910,"s":"I5","v":9.0e-4},{"w":912,"s":"I5","v":8.5e-4},{"w":914,"s":"I5","v":1.0e-3},{"w":916,"s":"I5","v":8.0e-4}
]},
"layer": [
{
"mark": {"type": "line", "strokeWidth": 1, "clip": true},
"encoding": {
"x": {"field": "w", "type": "quantitative", "scale": {"domain": [605, 918], "nice": false, "zero": false},
 "axis": {"values": [650, 700, 750, 800, 850, 900], "tickSize": -5, "tickColor": "black", "domain": false, "grid": false,
  "labelFont": "Liberation Sans", "labelFontSize": 13, "labelColor": "black", "labelPadding": 12,
  "title": "Wavelength (nm)", "titleFont": "Liberation Sans", "titleFontSize": 13, "titleFontWeight": "normal", "titleColor": "black", "titlePadding": 9}},
"y": {"field": "v", "type": "quantitative", "scale": {"type": "log", "domain": [6.86e-7, 0.385], "nice": false},
 "axis": {"values": [7e-7,8e-7,9e-7,1e-6,2e-6,3e-6,4e-6,5e-6,6e-6,7e-6,8e-6,9e-6,1e-5,2e-5,3e-5,4e-5,5e-5,6e-5,7e-5,8e-5,9e-5,1e-4,2e-4,3e-4,4e-4,5e-4,6e-4,7e-4,8e-4,9e-4,1e-3,2e-3,3e-3,4e-3,5e-3,6e-3,7e-3,8e-3,9e-3,1e-2,2e-2,3e-2,4e-2,5e-2,6e-2,7e-2,8e-2,9e-2,0.1,0.2,0.3],
  "tickSize": {"condition": {"test": "abs(log(datum.value)/LN10 - round(log(datum.value)/LN10)) < 0.01", "value": -6}, "value": -3},
  "tickColor": "black", "domain": false, "grid": false,
  "labelExpr": "abs(log(datum.value)/LN10 - round(log(datum.value)/LN10)) < 0.01 ? ['' + round(log(datum.value)/LN10), '10\u00a0\u00a0'] : ''",
  "labelFont": "Liberation Sans", "labelFontSize": 13, "labelColor": "black", "labelLineHeight": 13, "labelBaseline": "middle", "labelOffset": -11, "labelPadding": 10, "labelOverlap": false, "labelBound": false,
  "title": "All five Lu images (uW/cm\u00b2/sr/nm) for Track 11", "titleFont": "Liberation Sans", "titleFontSize": 13, "titleFontWeight": "normal", "titleColor": "black", "titlePadding": 25}},
"color": {"field": "s", "type": "nominal",
 "scale": {"domain": ["I1", "I2", "I3", "I4", "I5"], "range": ["#0080ff", "#00e6ff", "#80ff80", "#00c800", "#ff0000"]},
 "legend": {"orient": "bottom-left", "offset": 10, "title": null, "strokeColor": "black", "fillColor": "white", "padding": 4.5,
  "symbolType": "M-4,0H4", "symbolSize": 225, "symbolStrokeWidth": 1.3, "symbolOffset": 28, "labelOffset": 27.5, "rowPadding": 2.3,
  "labelFont": "Liberation Sans", "labelFontSize": 13, "labelColor": "black",
  "labelExpr": "(datum.label == 'I1' ? 'I1 21:27:44' : datum.label == 'I2' ? 'I2 21:27:48' : datum.label == 'I3' ? 'I3 21:27:52' : datum.label == 'I4' ? 'I4 21:27:56' : 'I5 21:28:00') + '\u00a0'"}}
}
},
{
"mark": {"type": "point", "opacity": 0},
"encoding": {
"x": {"field": "w", "type": "quantitative", "axis": {"orient": "top", "values": [650, 700, 750, 800, 850, 900], "tickSize": -5, "tickColor": "black", "labels": false, "domain": false, "grid": false, "title": null}},
"y": {"field": "v", "type": "quantitative", "axis": {"orient": "right", "values": [7e-7,8e-7,9e-7,1e-6,2e-6,3e-6,4e-6,5e-6,6e-6,7e-6,8e-6,9e-6,1e-5,2e-5,3e-5,4e-5,5e-5,6e-5,7e-5,8e-5,9e-5,1e-4,2e-4,3e-4,4e-4,5e-4,6e-4,7e-4,8e-4,9e-4,1e-3,2e-3,3e-3,4e-3,5e-3,6e-3,7e-3,8e-3,9e-3,1e-2,2e-2,3e-2,4e-2,5e-2,6e-2,7e-2,8e-2,9e-2,0.1,0.2,0.3],
 "tickSize": {"condition": {"test": "abs(log(datum.value)/LN10 - round(log(datum.value)/LN10)) < 0.01", "value": -6}, "value": -3},
 "tickColor": "black", "labels": false, "domain": false, "grid": false, "title": null}}
}
}
],
"resolve": {"axis": {"x": "independent", "y": "independent"}}
}
